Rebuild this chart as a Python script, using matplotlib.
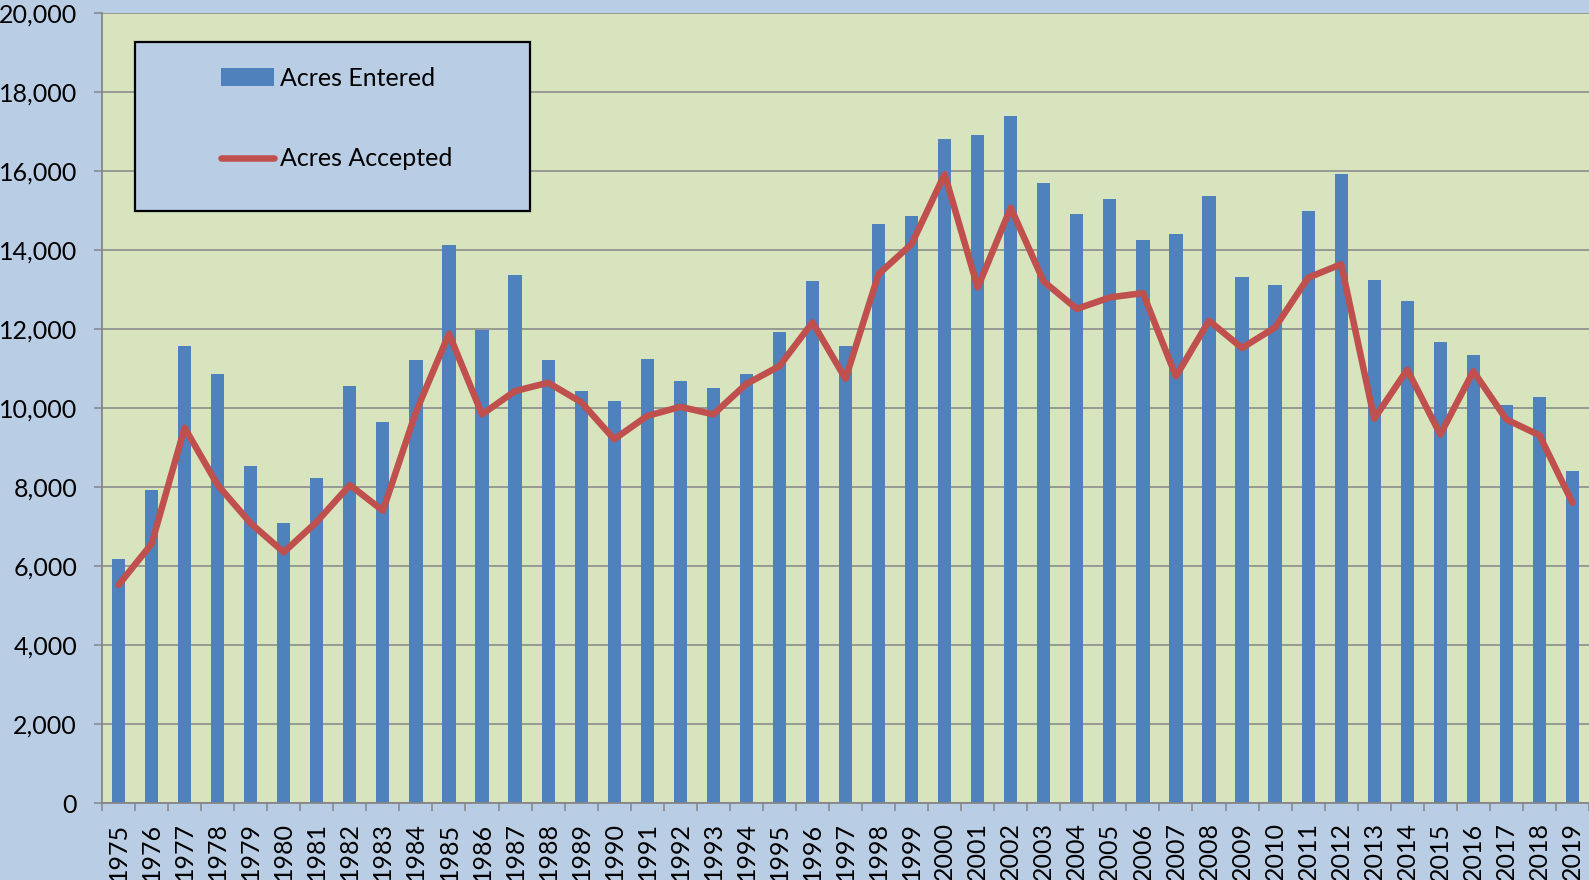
import numpy as np
import matplotlib
matplotlib.use("Agg")
import matplotlib.pyplot as plt
from matplotlib.patches import Rectangle
from matplotlib.ticker import FuncFormatter, FixedLocator

years = ["1975", "1976", "1977", "1978", "1979", "1980", "1981", "1982", "1983",
         "1984", "1985", "1986", "1987", "1988", "1989", "1990", "1991", "1992",
         "1993", "1994", "1995", "1996", "1997", "1998", "1999", "2000", "2001",
         "2002", "2003", "2004", "2005", "2006", "2007", "2008", "2009", "2010",
         "2011", "2012", "2013", "2014", "2015", "2016", "2017", "2018", "2019"]

acres_entered = [6170, 7920, 11580, 10850, 8530, 7090, 8240, 10560, 9650, 11220,
                 14130, 11970, 13380, 11220, 10420, 10190, 11250, 10690, 10500,
                 10870, 11920, 13210, 11560, 14660, 14870, 16820, 16900, 17390,
                 15690, 14920, 15280, 14250, 14410, 15360, 13310, 13110, 14990,
                 15920, 13240, 12720, 11660, 11330, 10080, 10280, 8400]

acres_accepted = [5520, 6560, 9500, 8050, 7080, 6350, 7120, 8050, 7400, 9900,
                  11880, 9840, 10430, 10640, 10150, 9210, 9800, 10030, 9840,
                  10610, 11060, 12170, 10740, 13390, 14150, 15920, 13050, 15070,
                  13200, 12510, 12800, 12910, 10800, 12210, 11520, 12040, 13300,
                  13640, 9730, 10970, 9330, 10930, 9710, 9310, 7600]

plt.rcParams['font.family'] = ['Lato', 'DejaVu Sans']

fig = plt.figure(figsize=(15.89, 8.80), dpi=100, facecolor='#B9CDE5')
ax = fig.add_axes([0.0642, 0.0875, 0.9358, 0.8977])
ax.set_facecolor('#D7E4BD')

x = np.arange(len(years))
bars = ax.bar(x, acres_entered, width=0.4, color='#4F81BD', label='Acres Entered', zorder=2)
line, = ax.plot(x, acres_accepted, color='#C0504D', linewidth=4.7, solid_joinstyle='round',
                solid_capstyle='round', label='Acres Accepted', zorder=3)

ax.set_xlim(-0.5, len(years) - 0.5)
ax.set_ylim(0, 20000)
ax.set_yticks(np.arange(0, 20001, 2000))
ax.yaxis.set_major_formatter(FuncFormatter(lambda v, p: f"{int(v):,}"))
ax.grid(axis='y', color='#868686', linewidth=1.1, zorder=1)

# category labels at centres, tick marks at boundaries
ax.set_xticks(x)
ax.set_xticklabels(years, rotation=90)
ax.xaxis.set_minor_locator(FixedLocator(np.arange(-0.5, len(years), 1.0)))
ax.tick_params(axis='x', which='major', length=0, pad=14, labelsize=18)
ax.tick_params(axis='x', which='minor', length=6, width=1.1, color='#868686', direction='out')
ax.tick_params(axis='y', length=6, width=1.1, color='#868686', pad=12, labelsize=18)

for s in ['top', 'right']:
    ax.spines[s].set_visible(False)
for s in ['left', 'bottom']:
    ax.spines[s].set_color('#868686')
    ax.spines[s].set_linewidth(1.3)

# legend box
box = Rectangle((135 / 1589, 1 - 211 / 880), (530 - 135) / 1589, (211 - 42) / 880,
                transform=fig.transFigure, facecolor='#B9CDE5', edgecolor='black',
                linewidth=1.6, zorder=5, clip_on=False)
ax.add_patch(box)
leg = ax.legend(handles=[bars, line], loc='upper left',
                bbox_to_anchor=(221 / 1589, 1 - 67 / 880),
                bbox_transform=fig.transFigure, frameon=False, fontsize=18,
                labelspacing=2.3, handlelength=2.1, handletextpad=0.25,
                borderpad=0, borderaxespad=0)
leg.set_zorder(6)

fig.savefig('out.png', dpi=100, facecolor=fig.get_facecolor())
